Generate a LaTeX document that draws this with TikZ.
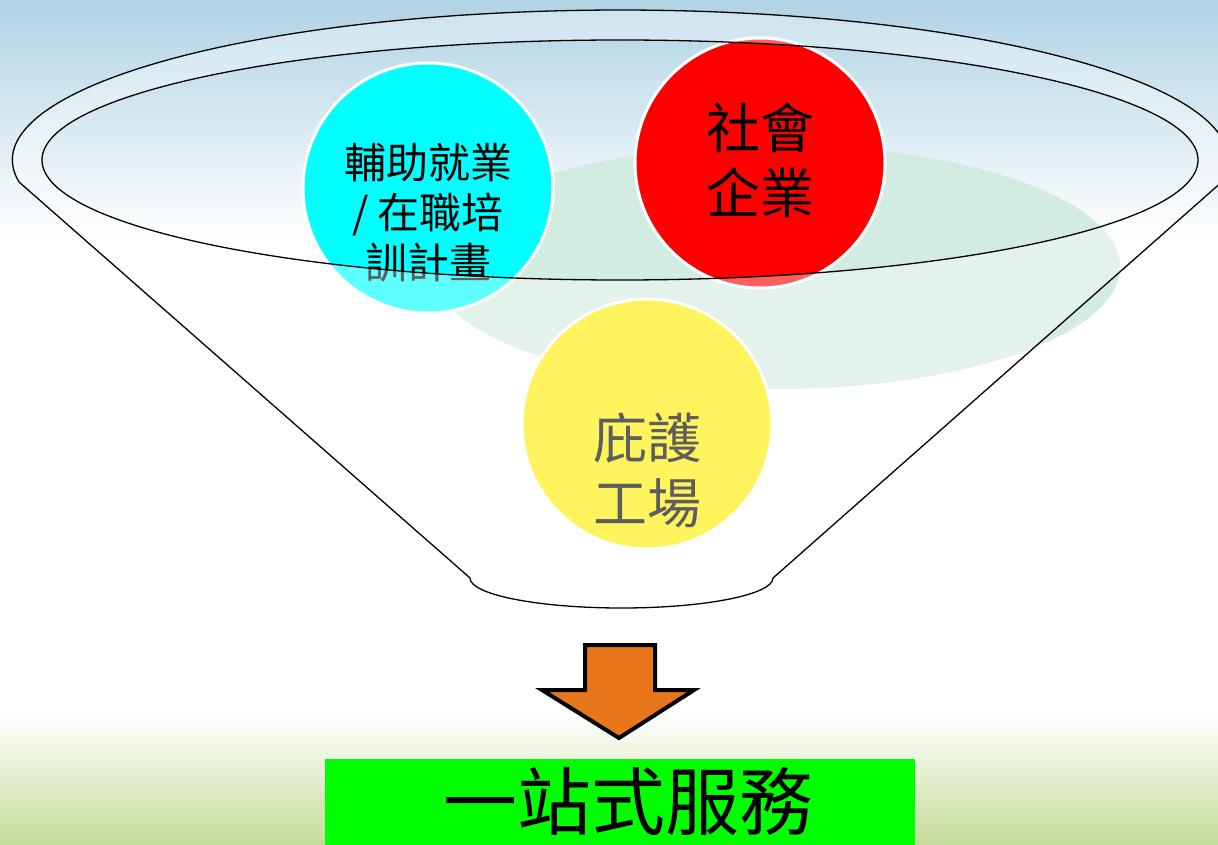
\documentclass[tikz,border=0pt]{standalone}
\usepackage{fontspec}
\newfontfamily\cjk{Noto Sans CJK TC}
\usetikzlibrary{calc}
\definecolor{sky}{HTML}{B0D3E4}
\definecolor{grass}{HTML}{C4DC98}
\definecolor{shadowgreen}{HTML}{D3ECE1}
\definecolor{arroworange}{HTML}{E8761A}
\definecolor{boxgreen}{HTML}{00FF00}
\definecolor{ylw}{HTML}{FFEE00}
\definecolor{cyn}{HTML}{00FFFF}
\definecolor{rd}{HTML}{FF0000}
\tikzset{
  bubble/.style={circle, draw=white, line width=3pt, minimum size=250pt, inner sep=0pt},
  bubbletext/.style={align=center, text=black, inner sep=0pt},
  funnelline/.style={draw=black, line width=1.3pt},
}
\begin{document}
\begin{tikzpicture}[x=1pt,y=-1pt]
\useasboundingbox (0,0) rectangle (1218,845);
% background
\fill[white] (0,0) rectangle (1218,845);
\shade[top color=sky, bottom color=white] (0,0) rectangle (1218,240);
\shade[top color=white, bottom color=grass] (0,715) rectangle (1218,845);
% shadow ellipse
\fill[shadowgreen] (775,267) ellipse [x radius=345pt, y radius=122pt];
% circles
\node[bubble, fill=cyn] (fuzhu) at (428,188) {};
\node[bubble, fill=rd] (shehui) at (760,163) {};
\node[bubble, fill=ylw] (bihu) at (647,424) {};
\node[bubbletext, font=\cjk\fontsize{42}{50}\selectfont] (fuzhutext) at ($(fuzhu)+(0,25)$) {輔助就業\\/ 在職培\\訓計畫};
\node[bubbletext, font=\cjk\fontsize{54}{65}\selectfont] (shehuitext) at ($(shehui)+(0,-3)$) {社會\\企業};
\node[bubbletext, font=\cjk\fontsize{54}{65}\selectfont] (bihutext) at ($(bihu)+(0,46)$) {庇護\\工場};
% funnel overlay
\fill[white, opacity=0.37, even odd rule]
  (19,182) arc[start angle=188.43, end angle=-8.43, x radius=608pt, y radius=150pt]
  -- (773,578) arc[start angle=0, end angle=-180, x radius=151.5pt, y radius=30pt] -- cycle
  (620,160) ellipse [x radius=578pt, y radius=120pt];
% funnel outline
\draw[funnelline]
  (19,182) arc[start angle=188.43, end angle=-8.43, x radius=608pt, y radius=150pt]
  -- (773,578) arc[start angle=0, end angle=-180, x radius=151.5pt, y radius=30pt] -- cycle;
\draw[funnelline] (620,160) ellipse [x radius=578pt, y radius=120pt];
% arrow
\draw[fill=arroworange, line width=4pt, line join=miter]
  (585,645) -- (655,645) -- (655,690) -- (694,690) -- (619,738) -- (542,690) -- (585,690) -- cycle;
% result box
\node[fill=boxgreen, minimum width=590pt, minimum height=90pt, inner sep=0pt, anchor=north west] (onestop) at (325,759) {};
\node[font=\cjk\fontsize{74}{80}\selectfont, inner sep=0pt] (onestoptext) at (628,801) {一站式服務};
\end{tikzpicture}
\end{document}
